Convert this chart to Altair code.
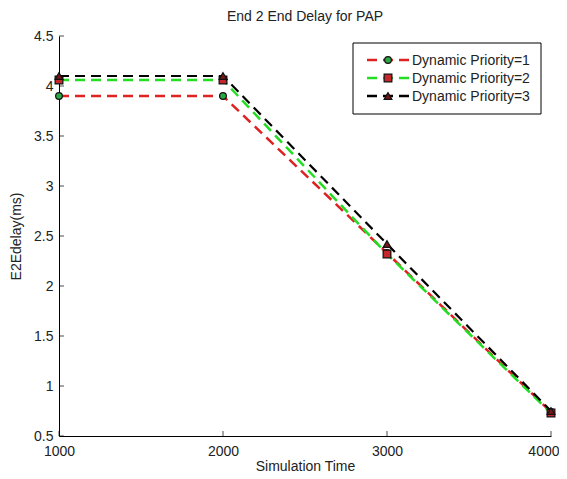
import altair as alt
import pandas as pd

sim_time = [1000, 2000, 3000, 4000]
prio1 = [3.90, 3.90, 2.33, 0.74]
prio2 = [4.06, 4.06, 2.32, 0.73]
prio3 = [4.10, 4.10, 2.42, 0.75]
series_names = ["Dynamic Priority=1", "Dynamic Priority=2", "Dynamic Priority=3"]
line_colors = ["#dd2222", "#22dd22", "#000000"]
marker_shapes = ["circle", "square", "triangle-up"]
marker_fills = ["#2aa845", "#c8262d", "#7a1616"]
y_ticks = [0.5, 1.0, 1.5, 2.0, 2.5, 3.0, 3.5, 4.0, 4.5]
x_ticks = [1000, 2000, 3000, 4000]

FONT = "Liberation Sans"
W, H = 492, 400

xscale = alt.Scale(domain=[1000, 4000], nice=False, zero=False)
yscale = alt.Scale(domain=[0.5, 4.5], nice=False, zero=False)

last_x = "datum.value === %d" % x_ticks[-1]
x_axis = alt.Axis(values=x_ticks, format="d", ticks=False, grid=False, domainColor="black",
                  labelFont=FONT, labelFontSize=14, labelColor="#222", labelPadding=8,
                  labelFlush=False, labelOverlap=False,
                  labelAlign={"condition": {"test": last_x, "value": "right"}, "value": "center"},
                  labelOffset={"condition": {"test": last_x, "value": 8}, "value": 0},
                  title="Simulation Time", titleFont=FONT, titleFontSize=14,
                  titleFontWeight="normal", titleColor="#222", titlePadding=1)
y_axis = alt.Axis(values=y_ticks, format="~g", ticks=False, grid=False, domainColor="black",
                  labelFont=FONT, labelFontSize=14, labelColor="#222", labelPadding=6,
                  labelFlush=False, labelOverlap=False,
                  title="E2Edelay(ms)", titleFont=FONT, titleFontSize=14,
                  titleFontWeight="normal", titleColor="#222", titlePadding=10)


def ex():
    return alt.X("t:Q", scale=xscale, axis=x_axis, title="Simulation Time")


def ey():
    return alt.Y("v:Q", scale=yscale, axis=y_axis, title="E2Edelay(ms)")


layers = []
all_series = [prio1, prio2, prio3]
for i, vals in enumerate(all_series):
    df = pd.DataFrame({"t": sim_time, "v": vals})
    base = alt.Chart(df)
    layers.append(base.mark_line(color=line_colors[i], strokeWidth=2.5 if i < 2 else 2.2,
                                 strokeDash=[10, 6]).encode(x=ex(), y=ey()))
    layers.append(base.mark_point(shape=marker_shapes[i], fill=marker_fills[i], filled=True,
                                  stroke="#111", strokeWidth=1.2, opacity=1,
                                  size=45 if i == 0 else 60).encode(x=ex(), y=ey()))

# inward ticks
ydf = pd.DataFrame({"v": y_ticks})
layers.append(alt.Chart(ydf).mark_tick(orient="horizontal", color="black", thickness=1, size=5)
              .encode(y=ey(), x=alt.value(2.5)))
xdf = pd.DataFrame({"t": x_ticks})
layers.append(alt.Chart(xdf).mark_tick(orient="vertical", color="black", thickness=1, size=5)
              .encode(x=ex(), y=alt.value(H - 2.5)))

# legend
one = pd.DataFrame({"a": [0]})
layers.append(alt.Chart(one).mark_rect(fill="white", stroke="black", strokeWidth=1)
              .encode(x=alt.value(294), x2=alt.value(482), y=alt.value(7), y2=alt.value(78)))
leg_y = [24, 42, 60]
for i, name in enumerate(series_names):
    ldf = pd.DataFrame({"label": [name]})
    lc = alt.Chart(ldf)
    layers.append(lc.mark_rule(color=line_colors[i], strokeWidth=2.5, strokeDash=[10, 6])
                  .encode(x=alt.value(308), x2=alt.value(350), y=alt.value(leg_y[i])))
    layers.append(lc.mark_point(shape=marker_shapes[i], fill=marker_fills[i], filled=True,
                                stroke="#111", strokeWidth=1.2, opacity=1,
                                size=45 if i == 0 else 60)
                  .encode(x=alt.value(329), y=alt.value(leg_y[i])))
    layers.append(lc.mark_text(align="left", baseline="middle", font=FONT, fontSize=14, color="#222")
                  .encode(x=alt.value(353), y=alt.value(leg_y[i] + 1), text="label:N"))

chart = alt.layer(*layers).properties(
    width=W, height=H,
    autosize="none",
    padding={"left": 51, "top": 28, "right": 8, "bottom": 40},
    title=alt.TitleParams("End 2 End Delay for PAP", font=FONT, fontSize=14,
                          fontWeight="normal", color="#222", offset=5),
    background="white",
).configure_view(stroke=None)

chart.save("out.html", embed_options={"renderer": "svg", "actions": False})
